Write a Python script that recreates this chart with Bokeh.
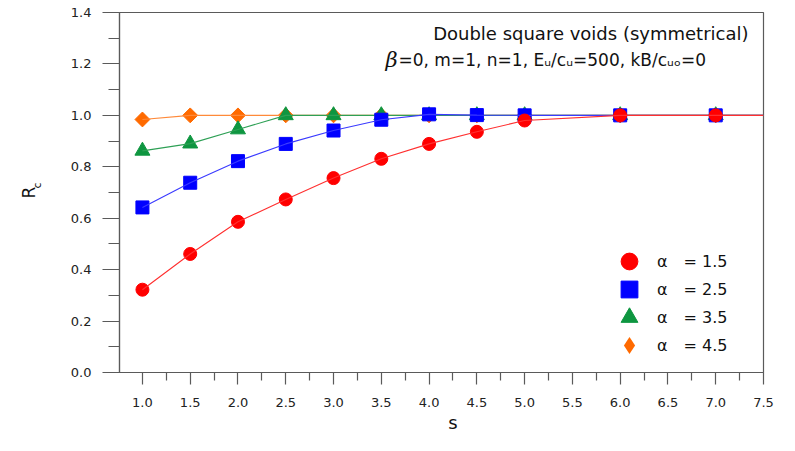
import math
from bokeh.plotting import figure
from bokeh.models import (Label, Legend, LegendItem, FixedTicker, PrintfTickFormatter, Range1d,
                          LinearAxis, CustomJSTickFormatter)
from bokeh.embed import file_html
from bokeh.resources import INLINE

# ---- data ----
s_vals = [1.0, 1.5, 2.0, 2.5, 3.0, 3.5, 4.0, 4.5, 5.0, 6.0, 7.0]
rc_a15 = [0.322, 0.461, 0.586, 0.673, 0.756, 0.831, 0.889, 0.936, 0.980, 1.0, 1.0]
rc_a25 = [0.642, 0.738, 0.822, 0.889, 0.941, 0.983, 1.004, 1.001, 1.0, 1.0, 1.0]
rc_a35 = [0.862, 0.890, 0.945, 1.0, 1.0, 1.0, 1.0, 1.0, 1.0, 1.0, 1.0]
rc_a45 = [0.984, 1.0, 1.0, 1.0, 1.0, 1.0, 1.0, 1.0, 1.0, 1.0, 1.0]
alpha_labels = ["1.5", "2.5", "3.5", "4.5"]

x_ticks = [1.0, 1.5, 2.0, 2.5, 3.0, 3.5, 4.0, 4.5, 5.0, 5.5, 6.0, 6.5, 7.0, 7.5]
x_minor = [1.25, 1.75, 2.25, 2.75, 3.25, 3.75, 4.25, 4.75, 5.25, 5.75, 6.25, 6.75, 7.25]
y_ticks = [0.0, 0.2, 0.4, 0.6, 0.8, 1.0, 1.2, 1.4]
y_minor = [0.1, 0.3, 0.5, 0.7, 0.9, 1.1, 1.3]

X_START, X_END = 0.76, 7.5
Y_END = 1.4
AX = "#5a5a5a"
FONT = "DejaVu Sans"

p = figure(width=779, height=435, output_backend="svg", toolbar_location=None,
           x_range=Range1d(X_START, X_END), y_range=Range1d(0, Y_END),
           min_border_left=119, min_border_right=16, min_border_top=12, min_border_bottom=63)
p.title.visible = False
p.grid.visible = False
p.outline_line_color = AX
p.outline_line_width = 1.2
p.background_fill_color = "white"
p.border_fill_color = "white"

p.xaxis.ticker = FixedTicker(ticks=x_ticks, minor_ticks=x_minor)
p.yaxis.ticker = FixedTicker(ticks=y_ticks, minor_ticks=y_minor)
for ax in (p.xaxis, p.yaxis):
    ax.formatter = PrintfTickFormatter(format="%.1f")
    ax.axis_line_color = AX
    ax.axis_line_width = 1.2
    ax.major_tick_line_color = AX
    ax.minor_tick_line_color = AX
    ax.major_tick_line_width = 1.2
    ax.minor_tick_line_width = 1.2
    ax.major_tick_in = 0
    ax.minor_tick_in = 0
    ax.major_label_text_font = FONT
    ax.major_label_text_font_size = "13px"
    ax.major_label_text_color = "#222222"
p.yaxis.major_tick_out = 17
p.yaxis.minor_tick_out = 11
p.yaxis.major_label_standoff = 11
p.xaxis.major_tick_out = 12
p.xaxis.minor_tick_out = 8
p.xaxis.major_label_standoff = 13

# y-axis title "R" with subscript "c"
p.yaxis.axis_label = "R"
p.yaxis.axis_label_text_font = FONT
p.yaxis.axis_label_text_font_size = "17px"
p.yaxis.axis_label_text_font_style = "normal"
p.yaxis.axis_label_text_color = "#111111"
p.yaxis.axis_label_standoff = 29


def text_axis(text, tick, size, standoff, orientation):
    return LinearAxis(ticker=FixedTicker(ticks=[tick], minor_ticks=[]),
                      formatter=CustomJSTickFormatter(code="return '%s'" % text),
                      axis_line_color=None, major_tick_line_color=None,
                      minor_tick_line_color=None, major_tick_out=0, major_tick_in=0,
                      minor_tick_out=0, minor_tick_in=0,
                      major_label_orientation=orientation,
                      major_label_standoff=standoff,
                      major_label_text_font=FONT, major_label_text_font_size=size,
                      major_label_text_color="#111111")

# subscript sits slightly above the centre of the "R" (text reads upwards)
p.add_layout(text_axis("c", Y_END * 0.528, "11px", -22, math.pi / 2), "left")
# x-axis title
p.add_layout(text_axis("s", 4.25, "18px", 2, "horizontal"), "below")

series = [
    (rc_a45, "#ff6a00", "#ff8a3a", "square", 10.5, math.pi / 4, "diamond"),
    (rc_a35, "#0e9640", "#2ea055", "triangle", 15, 0, None),
    (rc_a25, "#0000ff", "#3a3aff", "square", 13, 0, None),
    (rc_a15, "#ff0000", "#ff3030", "circle", 13, 0, None),
]
legend_renderers = []
for vals, mcol, lcol, marker, size, ang, leg_marker in series:
    xs = s_vals + [X_END]
    ys = vals + [vals[-1]]
    r = p.scatter(s_vals, vals, marker=marker, size=size, angle=ang,
                  fill_color=mcol, line_color=mcol)
    p.line(xs, ys, line_color=lcol, line_width=1.1)
    if leg_marker is not None:
        # legend swatch glyph (legend swatches ignore marker angle); tiny in the plot
        r = p.scatter(s_vals, vals, marker=leg_marker, size=0.01, line_width=0.01,
                      fill_color=mcol, line_color=mcol)
    legend_renderers.append(r)
legend_renderers = legend_renderers[::-1]

row_bottoms = [90, 62, 34, 6]
for a, rr, yb in zip(alpha_labels, legend_renderers, row_bottoms):
    lg = Legend(items=[LegendItem(label="\u03b1\u2002\u2002= " + a, renderers=[rr])],
                location=(489, yb), glyph_width=42, glyph_height=42,
                padding=0, margin=0, label_standoff=7,
                border_line_color=None, background_fill_alpha=0,
                label_text_font=FONT, label_text_font_size="16px",
                label_text_color="#111111")
    p.add_layout(lg)


def lab(text, x, y, size, align="left", style="normal", font=FONT):
    p.add_layout(Label(x=x, y=y, x_units="screen", y_units="screen", text=text,
                       text_font=font, text_font_size=size, text_align=align,
                       text_baseline="middle", text_font_style=style,
                       text_color="#111111"))


lab("Double square voids (symmetrical)", 629, 339, "18px", align="right")
lab("\u03b2", 266, 313, "21px", style="italic", font="DejaVu Serif")
lab("=0, m=1, n=1, E\u1d64/c\u1d64=500, kB/c\u1d64\u2092=0", 279, 313, "17px")

open("out.html", "w").write(file_html(p, INLINE))
